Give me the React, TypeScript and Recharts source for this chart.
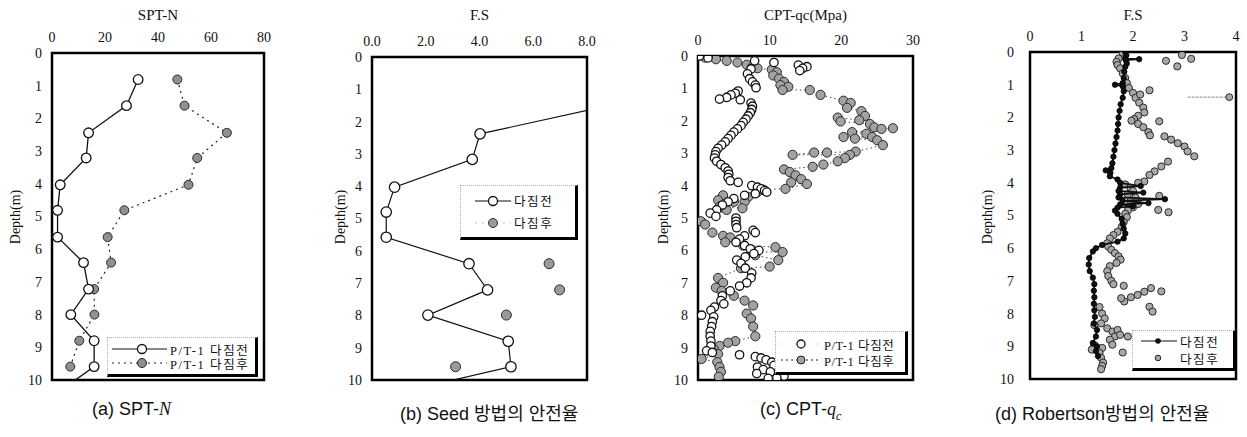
import React from 'react';
import { ScatterChart, Scatter, XAxis, YAxis, ReferenceArea, Legend } from 'recharts';

const SERIF = "'Liberation Serif', 'DejaVu Serif', 'Noto Sans CJK KR', serif";
const NARROW = "'Liberation Sans Narrow', 'Liberation Sans', 'Noto Sans CJK KR', sans-serif";

// ---------- (a) SPT-N ----------
const sptDepth = [0.81, 1.61, 2.44, 3.21, 4.03, 4.81, 5.63, 6.41, 7.22, 8.0, 8.8, 9.59];
const sptBefore = [32.5, 28.1, 13.8, 12.9, 3.1, 2.1, 2.1, 11.9, 13.8, 7.1, 15.9, 15.9];
const sptAfter = [47.3, 50.0, 66.0, 54.8, 51.5, 27.3, 21.0, 22.3, 15.9, 16.0, 10.3, 6.9];
const sptBeforeTail: [number, number] = [6.2, 10.15];
const sptTicks = [0, 20, 40, 60, 80];

// ---------- (b) Seed FS ----------
const seedDepth = [2.38, 3.17, 4.03, 4.8, 5.58, 6.4, 7.21, 7.99, 8.8, 9.59];
const seedBefore = [4.02, 3.73, 0.84, 0.53, 0.53, 3.61, 4.3, 2.08, 5.07, 5.17];
const seedBeforeHead: [number, number] = [8.3, 1.6];
const seedBeforeTail: [number, number] = [1.98, 10.2];
const seedAfterDepth = [6.4, 7.21, 7.99, 8.8, 9.59];
const seedAfter = [6.59, 6.98, 5.0, 5.07, 3.11];
const seedTicks = [0, 2, 4, 6, 8];

// ---------- (c) CPT-qc  [qc, depth] ----------
const cptBefore: [number, number][] = [
  [0.2, 0.0], [1.4, 0.06], [7.9, 0.15], [10.6, 0.2], [14.0, 0.28], [15.2, 0.33], [14.6, 0.38], [14.2, 0.45],
  [7.4, 0.4], [6.9, 0.55], [7.2, 0.7], [7.6, 0.8], [8.0, 0.9], [8.1, 0.98], [5.6, 1.08], [5.2, 1.15],
  [4.6, 1.2], [4.0, 1.28], [3.0, 1.33], [5.9, 1.35], [7.4, 1.45], [7.6, 1.55], [7.5, 1.65], [7.3, 1.75],
  [7.0, 1.85], [6.7, 1.95], [6.3, 2.05], [6.0, 2.15], [5.5, 2.25], [5.0, 2.35], [4.6, 2.45], [4.2, 2.55],
  [3.8, 2.65], [3.3, 2.75], [2.8, 2.85], [2.5, 2.95], [2.4, 3.05], [2.3, 3.15], [2.6, 3.25], [3.2, 3.35],
  [3.8, 3.45], [4.2, 3.55], [4.3, 3.65], [4.2, 3.75], [4.5, 3.85], [5.6, 3.9], [7.5, 4.0], [8.3, 4.05],
  [8.8, 4.1], [9.3, 4.15], [9.6, 4.2], [8.0, 4.25], [6.5, 4.3], [5.0, 4.4], [4.2, 4.5], [3.4, 4.6],
  [2.6, 4.75], [1.7, 4.85], [2.5, 4.95], [5.3, 5.0], [5.3, 5.1], [5.3, 5.2], [5.4, 5.3], [7.7, 5.38],
  [8.0, 5.45], [6.5, 5.55], [5.8, 5.65], [5.3, 5.75], [6.5, 5.85], [7.3, 5.95], [8.5, 6.0], [7.8, 6.1],
  [6.6, 6.2], [5.4, 6.3], [6.0, 6.4], [6.6, 6.55], [7.5, 6.7], [7.4, 6.85], [6.8, 7.0], [5.8, 7.1],
  [4.5, 7.25], [3.4, 7.4], [3.2, 7.55], [3.6, 7.65], [2.3, 7.75], [1.8, 7.85], [0.5, 8.0], [2.2, 8.05],
  [2.0, 8.2], [1.9, 8.35], [1.7, 8.5], [1.7, 8.65], [1.8, 8.8], [1.8, 8.95], [1.2, 9.1], [2.0, 9.15],
  [5.8, 9.22], [8.0, 9.28], [8.8, 9.32], [9.5, 9.38], [10.3, 9.45], [10.6, 9.55], [8.3, 9.6], [9.1, 9.68],
  [10.1, 9.75], [8.2, 9.8], [12.0, 9.88], [9.8, 9.95], [11.0, 9.93],
];
const cptAfter: [number, number][] = [
  [0.0, 0.0], [1.0, 0.05], [2.5, 0.1], [4.0, 0.15], [5.5, 0.2], [6.8, 0.27], [7.6, 0.33], [8.3, 0.38],
  [10.3, 0.42], [11.0, 0.5], [10.5, 0.6], [11.3, 0.7], [12.0, 0.8], [11.5, 0.9], [12.6, 0.95], [11.8, 1.05],
  [15.6, 1.05], [17.1, 1.2], [20.3, 1.38], [21.3, 1.45], [20.8, 1.6], [22.8, 1.7], [23.3, 1.85], [22.5, 1.98],
  [19.5, 1.9], [19.9, 2.02], [24.0, 2.1], [24.6, 2.2], [25.6, 2.25], [27.2, 2.23], [21.5, 2.35], [23.5, 2.4],
  [24.3, 2.5], [20.3, 2.5], [21.9, 2.55], [25.0, 2.6], [25.8, 2.75], [22.0, 2.95], [18.0, 2.98], [16.2, 2.98],
  [13.2, 3.05], [21.2, 3.05], [20.5, 3.15], [19.5, 3.25], [17.5, 3.35], [16.0, 3.42], [12.0, 3.5], [12.8, 3.58],
  [13.6, 3.68], [14.4, 3.8], [13.0, 3.9], [15.2, 3.95], [12.2, 4.1], [9.0, 4.12], [8.3, 4.2], [7.0, 4.35],
  [3.5, 4.3], [2.8, 4.45], [5.0, 4.5], [6.5, 4.5], [6.2, 4.7], [3.0, 4.65], [4.0, 4.75], [0.4, 5.1],
  [1.0, 5.2], [2.0, 5.45], [3.5, 5.55], [4.5, 5.6], [3.8, 5.75], [6.3, 5.85], [10.8, 5.9], [11.8, 6.05],
  [7.5, 6.05], [8.0, 6.15], [11.2, 6.3], [10.0, 6.5], [6.0, 6.55], [2.8, 6.85], [3.5, 7.0], [2.5, 7.15],
  [3.3, 7.25], [5.0, 7.4], [6.5, 7.55], [7.7, 7.7], [6.8, 7.95], [7.4, 8.1], [7.7, 8.35], [8.0, 8.65],
  [5.2, 8.8], [4.2, 8.85], [3.0, 8.95], [2.2, 9.05], [2.8, 9.2], [0.5, 9.35], [2.7, 9.45], [3.0, 9.6],
  [3.2, 9.75], [2.9, 9.9],
];
const cptTicks = [0, 10, 20, 30];

// ---------- (d) Robertson FS  [FS, depth] ----------
const robBefore: [number, number][] = [
  [1.85, 0.0], [1.87, 0.1], [1.85, 0.2], [2.12, 0.22], [1.86, 0.25], [1.88, 0.35], [1.85, 0.45], [1.83, 0.6],
  [1.82, 0.8], [1.8, 0.95], [1.65, 1.0], [1.8, 1.05], [1.82, 1.2], [1.8, 1.4], [1.76, 1.6], [1.74, 1.8],
  [1.72, 2.0], [1.71, 2.2], [1.7, 2.4], [1.68, 2.6], [1.66, 2.8], [1.64, 3.0], [1.62, 3.2], [1.6, 3.4],
  [1.58, 3.55], [1.47, 3.62], [1.56, 3.7], [1.55, 3.8], [1.7, 3.9], [1.75, 4.0], [2.15, 4.1], [1.75, 4.15],
  [1.72, 4.25], [2.2, 4.3], [1.75, 4.35], [1.72, 4.45], [2.62, 4.5], [1.8, 4.55], [2.3, 4.62], [1.75, 4.66],
  [2.0, 4.72], [1.7, 4.76], [1.65, 4.85], [1.7, 4.95], [1.78, 5.1], [1.8, 5.25], [1.82, 5.4], [1.85, 5.55],
  [1.82, 5.7], [1.7, 5.8], [1.4, 5.9], [1.28, 6.0], [1.22, 6.1], [1.15, 6.3], [1.14, 6.5], [1.16, 6.7],
  [1.22, 6.9], [1.25, 7.1], [1.24, 7.3], [1.25, 7.5], [1.24, 7.7], [1.25, 7.9], [1.26, 8.1], [1.24, 8.3],
  [1.3, 8.5], [1.28, 8.7], [1.22, 8.9], [1.3, 9.0], [1.28, 9.15], [1.32, 9.3],
];
const robAfter: [number, number][] = [
  [1.8, 0.02], [1.72, 0.2], [1.68, 0.3], [1.7, 0.4], [1.75, 0.5], [1.8, 0.65], [1.85, 0.8], [1.88, 0.95],
  [1.92, 1.1], [2.0, 1.25], [2.05, 1.4], [2.12, 1.55], [2.2, 1.7], [2.22, 1.85], [2.1, 1.95], [2.02, 2.05],
  [1.97, 2.1], [2.1, 2.2], [2.2, 2.3], [2.3, 2.45], [2.33, 2.55], [2.51, 2.12], [2.32, 1.17], [2.14, 1.3],
  [2.64, 0.27], [2.86, 0.44], [2.95, 0.09], [3.13, 0.21],
  [2.61, 2.58], [2.74, 2.68], [2.87, 2.79], [3.0, 2.89], [3.06, 3.04], [3.19, 3.19],
  [2.68, 3.35], [2.55, 3.5], [2.42, 3.65], [2.32, 3.76], [2.22, 3.96], [2.1, 4.0],
  [1.85, 4.05], [1.95, 4.15], [2.0, 4.25], [1.9, 4.35], [2.05, 4.45], [1.95, 4.55], [2.1, 4.65], [2.0, 4.75],
  [1.9, 4.85], [1.85, 4.95], [2.51, 4.4], [2.49, 4.83], [2.69, 4.9],
  [1.88, 5.05], [1.82, 5.2], [1.78, 5.35], [1.7, 5.5], [1.62, 5.6], [1.55, 5.7], [1.5, 5.85], [1.52, 5.95],
  [1.58, 6.05], [1.65, 6.15], [1.72, 6.25], [1.76, 6.35], [1.68, 6.45], [1.55, 6.55], [1.5, 6.7], [1.52, 6.85],
  [1.58, 7.0], [1.62, 7.1],
  [1.82, 7.15], [2.22, 7.33], [2.35, 7.22], [2.55, 7.32], [2.09, 7.43], [1.96, 7.5], [1.83, 7.63], [1.77, 7.53],
  [2.32, 7.79], [2.38, 7.94],
  [1.35, 7.8], [1.4, 8.0], [1.45, 8.15], [1.38, 8.3], [1.25, 8.35], [1.5, 8.45], [1.6, 8.55], [1.7, 8.5],
  [1.65, 8.7], [1.55, 8.8], [1.6, 8.95], [1.75, 8.65], [1.9, 8.7], [1.8, 9.19], [1.4, 9.05], [1.35, 9.2],
  [1.38, 9.35], [1.42, 9.5], [1.4, 9.6], [1.38, 9.7], [1.25, 8.96], [1.2, 9.1],
];
const robOutlier: [number, number][] = [[3.06, 1.38], [3.87, 1.38]];
const robTicks = [0, 1, 2, 3, 4];

const depthTicks = [0, 1, 2, 3, 4, 5, 6, 7, 8, 9, 10];

type Pt = { x: number; y: number; tail?: boolean };
const fromPairs = (a: [number, number][]): Pt[] => a.map(([x, y]) => ({ x, y }));
const fromCols = (xs: number[], ys: number[]): Pt[] => xs.map((x, i) => ({ x, y: ys[i] }));

const openCircle = (r: number) => (p: any) =>
  p.tail || p.payload?.tail ? <g /> : <circle cx={p.cx} cy={p.cy} r={r} fill="#fff" stroke="#111" strokeWidth={1.3} />;
const grayCircle = (r: number, fill = '#9c9c9c') => (p: any) =>
  p.tail || p.payload?.tail ? <g /> : <circle cx={p.cx} cy={p.cy} r={r} fill={fill} stroke="#2a2a2a" strokeWidth={1} />;
const blackDot = (r: number) => (p: any) =>
  p.tail || p.payload?.tail ? <g /> : <circle cx={p.cx} cy={p.cy} r={r} fill="#111" stroke="#000" strokeWidth={0.8} />;

const TitleLabel = (props: any) => (
  <text x={props.lx} y={props.ly} textAnchor="middle" dominantBaseline="central" fontFamily={SERIF} fontSize={15} fill="#111">
    {props.txt}
  </text>
);
const DepthLabel = (props: any) => (
  <text
    x={props.lx}
    y={props.ly}
    transform={`rotate(-90 ${props.lx} ${props.ly})`}
    textAnchor="middle"
    dominantBaseline="central"
    fontFamily={SERIF}
    fontSize={14}
    fill="#111"
  >
    Depth(m)
  </text>
);

type LegItem = { icon: React.ReactNode; label: string };
type LegSpec = { left: number; top: number; w: number; h: number; gap: number; pad: number; ls: number; items: LegItem[] };
const LegendBox = ({ spec }: { spec: LegSpec }) => (
  <div
    style={{
      width: spec.w,
      height: spec.h,
      boxSizing: 'border-box',
      background: '#fff',
      borderTop: '1px dotted #aaa',
      borderLeft: '1px dotted #aaa',
      borderRight: '3px solid #000',
      borderBottom: '3px solid #000',
      display: 'flex',
      flexDirection: 'column',
      justifyContent: 'center',
      paddingLeft: spec.pad,
      gap: spec.gap,
      fontFamily: SERIF,
      fontSize: 12.5,
      color: '#111',
      overflow: 'hidden',
    }}
  >
    {spec.items.map((it, i) => (
      <div key={i} style={{ display: 'flex', alignItems: 'center', height: 14, whiteSpace: 'nowrap', letterSpacing: spec.ls }}>
        {it.icon}
        <span>{it.label}</span>
      </div>
    ))}
  </div>
);

const IconSvg = ({ w, line, dash, circle }: { w: number; line?: string; dash?: string; circle: React.ReactNode }) => (
  <svg width={w} height={14} style={{ flex: 'none', marginRight: 3 }}>
    {line && <line x1={0} y1={7} x2={w} y2={7} stroke={line} strokeWidth={1.2} strokeDasharray={dash} />}
    {circle}
  </svg>
);

type SeriesDef = { name: string; data: Pt[]; shape: any; line?: any };
type PanelProps = {
  cl: number;
  w: number;
  plot: { l: number; r: number; t: number; b: number };
  xDomain: [number, number];
  xTicks: number[];
  fmt?: (v: number) => string;
  title: string;
  yGap: number;
  depthDx: number;
  series: SeriesDef[];
  legend: LegSpec;
};

const H = 395;

function Panel(p: PanelProps) {
  const margin = { top: p.plot.t - 50, left: p.plot.l - p.cl - 45, right: p.cl + p.w - p.plot.r, bottom: H - p.plot.b };
  const tickStyle = { fontFamily: SERIF, fontSize: 14, fill: '#111' };
  return (
    <div style={{ position: 'absolute', left: p.cl, top: 0 }}>
      <ScatterChart width={p.w} height={H} margin={margin}>
        <XAxis
          type="number"
          dataKey="x"
          orientation="top"
          domain={p.xDomain}
          ticks={p.xTicks}
          interval={0}
          tickFormatter={p.fmt}
          allowDataOverflow
          axisLine={false}
          tickLine={false}
          tickSize={0}
          tickMargin={11}
          height={50}
          tick={tickStyle}
          label={<TitleLabel lx={(p.plot.l + p.plot.r) / 2 - p.cl} ly={15} txt={p.title} />}
        />
        <YAxis
          type="number"
          dataKey="y"
          reversed
          domain={[0, 10]}
          ticks={depthTicks}
          interval={0}
          allowDataOverflow
          axisLine={false}
          tickLine={false}
          tickSize={0}
          tickMargin={p.yGap}
          width={45}
          tick={tickStyle}
          label={<DepthLabel lx={p.plot.l - p.cl + p.depthDx} ly={217} />}
        />
        {p.series.map((s) => (
          <Scatter key={s.name} name={s.name} data={s.data} shape={s.shape} line={s.line} isAnimationActive={false} />
        ))}
        <ReferenceArea
          x1={p.xDomain[0]}
          x2={p.xDomain[1]}
          y1={0}
          y2={10}
          fill="none"
          stroke="#000"
          strokeWidth={2.5}
          ifOverflow="visible"
        />
        <Legend
          layout="vertical"
          align="center"
          verticalAlign="middle"
          wrapperStyle={{ left: p.legend.left - p.cl, top: p.legend.top, width: p.legend.w, height: p.legend.h }}
          content={() => <LegendBox spec={p.legend} />}
        />
      </ScatterChart>
    </div>
  );
}

const sptBeforeData: Pt[] = [...fromCols(sptBefore, sptDepth), { x: sptBeforeTail[0], y: sptBeforeTail[1], tail: true }];
const sptAfterData: Pt[] = fromCols(sptAfter, sptDepth);
const seedBeforeData: Pt[] = [
  { x: seedBeforeHead[0], y: seedBeforeHead[1], tail: true },
  ...fromCols(seedBefore, seedDepth),
  { x: seedBeforeTail[0], y: seedBeforeTail[1], tail: true },
];
const seedAfterData: Pt[] = fromCols(seedAfter, seedAfterDepth);
const robOutlierData: Pt[] = [{ x: robOutlier[0][0], y: robOutlier[0][1], tail: true }, { x: robOutlier[1][0], y: robOutlier[1][1] }];

const Caption = ({ left, children }: { left: number; children: React.ReactNode }) => (
  <div style={{ position: 'absolute', left, top: 399, fontFamily: NARROW, fontSize: 18, color: '#111', whiteSpace: 'nowrap' }}>
    {children}
  </div>
);

export default function App() {
  return (
    <div style={{ position: 'absolute', left: 0, top: 0, width: 1247, height: 437, background: '#fff', overflow: 'hidden' }}>
      <Panel
        cl={0}
        w={300}
        plot={{ l: 52, r: 264, t: 53, b: 380 }}
        xDomain={[0, 80]}
        xTicks={sptTicks}
        title="SPT-N"
        yGap={10}
        depthDx={-37}
        series={[
          { name: 'after', data: sptAfterData, shape: grayCircle(4.5, '#8f8f8f'), line: { stroke: '#222', strokeWidth: 1.2, strokeDasharray: '2 4' } },
          { name: 'before', data: sptBeforeData, shape: openCircle(4.8), line: { stroke: '#111', strokeWidth: 1.3 } },
        ]}
        legend={{
          left: 107,
          top: 337,
          w: 151,
          h: 40,
          gap: 0,
          pad: 4,
          ls: 1.6,
          items: [
            {
              icon: <IconSvg w={55} line="#111" circle={<circle cx={30} cy={7} r={4.5} fill="#fff" stroke="#111" strokeWidth={1.3} />} />,
              label: 'P/T-1 다짐전',
            },
            {
              icon: <IconSvg w={55} line="#222" dash="2 4" circle={<circle cx={30} cy={7} r={4.5} fill="#8f8f8f" stroke="#222" />} />,
              label: 'P/T-1 다짐후',
            },
          ],
        }}
      />
      <Panel
        cl={300}
        w={310}
        plot={{ l: 372, r: 587, t: 57, b: 380 }}
        xDomain={[0, 8]}
        xTicks={seedTicks}
        fmt={(v) => v.toFixed(1)}
        title="F.S"
        yGap={10}
        depthDx={-32}
        series={[
          { name: 'after', data: seedAfterData, shape: grayCircle(5, '#9a9a9a') },
          { name: 'before', data: seedBeforeData, shape: openCircle(5.2), line: { stroke: '#111', strokeWidth: 1.2 } },
        ]}
        legend={{
          left: 460,
          top: 185,
          w: 118,
          h: 55,
          gap: 8,
          pad: 14,
          ls: 1.6,
          items: [
            {
              icon: <IconSvg w={36} line="#111" circle={<circle cx={18} cy={7} r={4.5} fill="#fff" stroke="#111" strokeWidth={1.3} />} />,
              label: '다짐전',
            },
            {
              icon: <IconSvg w={36} line="#bbb" dash="2 5" circle={<circle cx={18} cy={7} r={4.5} fill="#9a9a9a" stroke="#333" />} />,
              label: '다짐후',
            },
          ],
        }}
      />
      <Panel
        cl={620}
        w={305}
        plot={{ l: 698, r: 913, t: 56, b: 380 }}
        xDomain={[0, 30]}
        xTicks={cptTicks}
        title="CPT-qc(Mpa)"
        yGap={10}
        depthDx={-35}
        series={[
          { name: 'after', data: fromPairs(cptAfter), shape: grayCircle(4.6, '#a2a2a2'), line: { stroke: '#444', strokeWidth: 1, strokeDasharray: '1.5 3' } },
          { name: 'before', data: fromPairs(cptBefore), shape: openCircle(4.2) },
        ]}
        legend={{
          left: 775,
          top: 331,
          w: 133,
          h: 44,
          gap: 2,
          pad: 5,
          ls: 0.6,
          items: [
            {
              icon: <IconSvg w={40} line="#bbb" dash="1 6" circle={<circle cx={20} cy={7} r={4} fill="#fff" stroke="#111" strokeWidth={1.3} />} />,
              label: 'P/T-1 다짐전',
            },
            {
              icon: <IconSvg w={40} line="#222" dash="2 3" circle={<circle cx={20} cy={7} r={4} fill="#a2a2a2" stroke="#222" />} />,
              label: 'P/T-1 다짐후',
            },
          ],
        }}
      />
      <Panel
        cl={930}
        w={317}
        plot={{ l: 1030, r: 1236, t: 52, b: 379 }}
        xDomain={[0, 4]}
        xTicks={robTicks}
        title="F.S"
        yGap={16}
        depthDx={-43}
        series={[
          { name: 'after', data: fromPairs(robAfter), shape: grayCircle(3.6, '#a8a8a8') },
          { name: 'outlier', data: robOutlierData, shape: grayCircle(3.4, '#a8a8a8'), line: { stroke: '#888', strokeWidth: 1, strokeDasharray: '3 1' } },
          { name: 'before', data: fromPairs(robBefore), shape: blackDot(2.7), line: { stroke: '#111', strokeWidth: 1.8 } },
        ]}
        legend={{
          left: 1132,
          top: 330,
          w: 104,
          h: 41,
          gap: 3,
          pad: 8,
          ls: 1.6,
          items: [
            {
              icon: <IconSvg w={36} line="#111" circle={<circle cx={17} cy={7} r={2.8} fill="#111" />} />,
              label: '다짐전',
            },
            {
              icon: <IconSvg w={36} circle={<circle cx={17} cy={7} r={2.8} fill="#aaa" stroke="#222" />} />,
              label: '다짐후',
            },
          ],
        }}
      />
      <Caption left={92}>
        (a) SPT-<span style={{ fontFamily: SERIF, fontStyle: 'italic' }}>N</span>
      </Caption>
      <Caption left={400}>(b) Seed 방법의 안전율</Caption>
      <Caption left={760}>
        (c) CPT-<span style={{ fontFamily: SERIF, fontStyle: 'italic' }}>q</span>
        <sub style={{ fontFamily: SERIF, fontStyle: 'italic', fontSize: 12 }}>c</sub>
      </Caption>
      <Caption left={995}>(d) Robertson방법의 안전율</Caption>
    </div>
  );
}
